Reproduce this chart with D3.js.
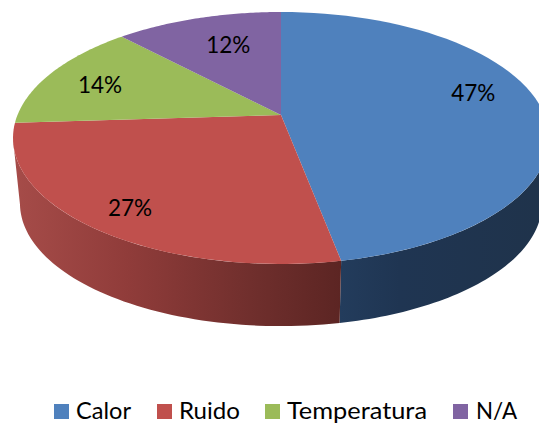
<!DOCTYPE html>
<html><head><meta charset="utf-8">
<script src="https://cdnjs.cloudflare.com/ajax/libs/d3/7.8.5/d3.min.js"></script>
<style>html,body{margin:0;padding:0;background:#fff}svg{display:block}text{font-family:Lato,"Noto Sans",sans-serif;fill:#000}</style>
</head><body><svg id="c" width="539" height="424"></svg>
<script>
const categories=["Calor","Ruido","Temperatura","N/A"];
const values=[47,27,14,12];
const labels=["47%","27%","14%","12%"];
const colors=["#4F81BD","#C0504D","#9BBB59","#8064A2"];

// layout constants
const W=539,H=424,cx=281,apexY=115,topY=12,botY=264;
const rx=268,depth=66,bottomScale=0.974;
const c=(2*apexY-(botY+topY))/(botY-topY);
const a=botY*(1+c)-apexY, k=rx*Math.sqrt(1-c*c);
const visA=101*Math.PI/180,visB=259*Math.PI/180;
const labelR=[.75,.8,.85,.7],labelShift=[[-2,-14],[-5,6],[16,6],[8,1]];
const legendSwatchX=[54,157,265,453],legendTextX=[76,179,287,476],legendTextW=[55,61,140,41];

const project=(th,r=1)=>{const u=r*Math.sin(th),v=-r*Math.cos(th),d=1+c*v;
  return [k*u/d,(a*v+apexY)/d];};
const topPt=(th,r=1)=>{const p=project(th,r);return [cx+p[0],p[1]];};
const botPt=th=>{const p=project(th);return [cx+p[0]*bottomScale,apexY+(p[1]-apexY)*bottomScale+depth];};
const samples=(s,e)=>d3.range(0,61).map(i=>s+(e-s)*i/60);

const svg=d3.select("#c");
const pie=d3.pie().sort(null).value(d=>d)(values);
const line=d3.line();

const defs=svg.append("defs");
const grad=(id,x1,x2,stops)=>{const g=defs.append("linearGradient").attr("id",id).attr("gradientUnits","userSpaceOnUse")
  .attr("x1",x1).attr("x2",x2).attr("y1",0).attr("y2",0);
  stops.forEach(s=>g.append("stop").attr("offset",s[0]).attr("stop-color",s[1]));};
grad("side0",340,539,[[0,"#233C5C"],[.3,"#1F3552"],[1,"#1F334B"]]);
grad("side1",13,341,[[0,"#A64C49"],[.35,"#903C3A"],[.75,"#6E2E2C"],[1,"#5C2523"]]);

// sides
svg.append("g").selectAll("path").data(pie.filter(d=>d.startAngle<visB&&d.endAngle>visA)).join("path")
  .attr("fill",d=>`url(#side${d.index})`)
  .attr("d",d=>{const s=Math.max(d.startAngle,visA),e=Math.min(d.endAngle,visB),t=samples(s,e);
    return line([...t.map(th=>topPt(th)),...t.slice().reverse().map(th=>botPt(th))])+"Z";});

// top faces
svg.append("g").selectAll("path").data(pie).join("path")
  .attr("fill",d=>colors[d.index])
  .attr("d",d=>line([[cx,apexY],...samples(d.startAngle,d.endAngle).map(th=>topPt(th))])+"Z");

// labels
svg.append("g").selectAll("text").data(pie).join("text")
  .attr("text-anchor","middle").attr("font-size",22.5)
  .attr("x",d=>topPt((d.startAngle+d.endAngle)/2,labelR[d.index])[0]+labelShift[d.index][0])
  .attr("y",d=>topPt((d.startAngle+d.endAngle)/2,labelR[d.index])[1]+labelShift[d.index][1]+8)
  .text(d=>labels[d.index]);

// legend
const lg=svg.append("g").selectAll("g").data(categories).join("g");
lg.append("rect").attr("x",(d,i)=>legendSwatchX[i]).attr("y",404).attr("width",15).attr("height",15).attr("fill",(d,i)=>colors[i]);
lg.append("text").attr("x",(d,i)=>legendTextX[i]).attr("y",419).attr("font-size",22.5)
  .attr("textLength",(d,i)=>legendTextW[i]).attr("lengthAdjust","spacingAndGlyphs").text(d=>d);
</script></body></html>
